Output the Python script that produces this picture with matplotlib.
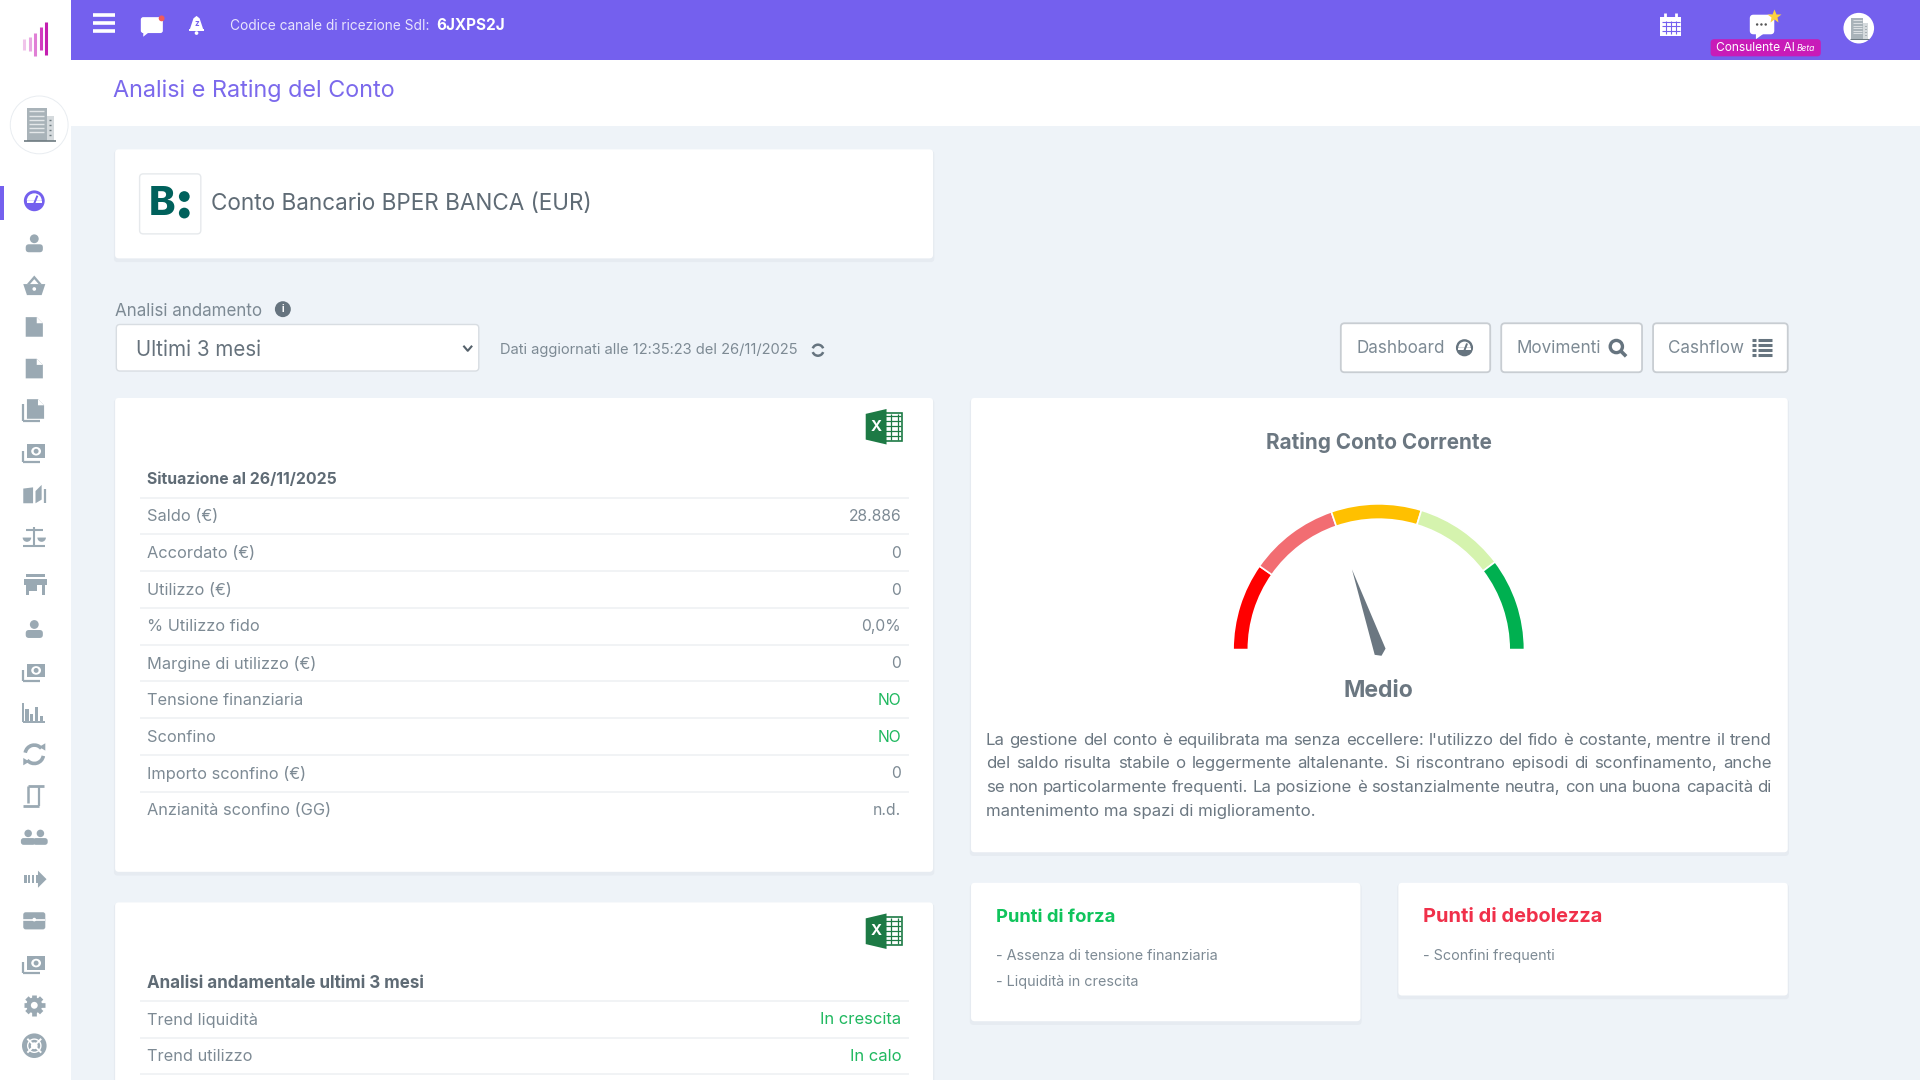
import matplotlib
matplotlib.use("Agg")
import matplotlib.pyplot as plt
import numpy as np
from matplotlib.patches import Circle, Ellipse, FancyBboxPatch, Polygon, Rectangle, Wedge, Arc

plt.rcParams['font.family'] = ['Inter', 'DejaVu Sans']

# table contents
situation_title = "Situazione al 26/11/2025"
situation_labels = ["Saldo (€)", "Accordato (€)", "Utilizzo (€)", "% Utilizzo fido", "Margine di utilizzo (€)",
                    "Tensione finanziaria", "Sconfino", "Importo sconfino (€)", "Anzianità sconfino (GG)"]
situation_values = ["28.886", "0", "0", "0,0%", "0", "NO", "NO", "0", "n.d."]
trend_title = "Analisi andamentale ultimi 3 mesi"
trend_labels = ["Trend liquidità", "Trend utilizzo"]
trend_values = ["In crescita", "In calo"]

# gauge: edges in degrees, from left to right
gauge_edges = [180, 145, 109, 73, 37, 0]
gauge_colors = ["#ff0000", "#f26d72", "#ffc000", "#d5f3ae", "#00b050"]
needle_angle = 108.5
rating_label = "Medio"

rating_lines = [
    "La gestione del conto è equilibrata ma senza eccellere: l'utilizzo del fido è costante, mentre il trend",
    "del saldo risulta stabile o leggermente altalenante. Si riscontrano episodi di sconfinamento, anche",
    "se non particolarmente frequenti. La posizione è sostanzialmente neutra, con una buona capacità di",
    "mantenimento ma spazi di miglioramento.",
]
strengths = ["- Assenza di tensione finanziaria", "- Liquidità in crescita"]
weaknesses = ["- Sconfini frequenti"]

sidebar_icons = ["gauge", "person", "basket", "file", "file", "files", "money", "book", "scale", "store", "person",
                 "money", "bars", "sync", "scroll", "people", "arrow", "chest", "money", "gear", "buoy"]
sidebar_rows = [164, 199, 233, 267, 301, 335, 370, 404, 438, 477, 514, 549, 582, 616, 650, 684, 718, 752, 788, 821, 854]
logo_tops = [32, 30, 27, 22, 18]
logo_bottoms = [41, 42, 46, 41, 45]
logo_colors = ["#f0c4ea", "#e9a8e2", "#e07fd5", "#d23cc0", "#c41fb0"]

PURPLE = "#7460ee"
BG = "#eef3f8"
GREY = "#7d8a94"
DARK = "#5f6b75"
ICON = "#9aa9b3"
GREEN = "#1fb85f"

fig = plt.figure(figsize=(19.2, 10.8), dpi=100, facecolor=BG)
ax = fig.add_axes([0, 0, 1, 1])
# the axes use the coordinates of the page
ax.set_xlim(0, 1568)
ax.set_ylim(882, 0)
ax.axis("off")


def txt(x, y, s, size, color=GREY, weight="normal", ha="left", style="normal"):
    return ax.text(x, y + 1, s, fontsize=size * 0.72, color=color, fontweight=weight, ha=ha, va="center",
                   fontstyle=style, zorder=6)


def box(x0, y0, x1, y1, color="white", edge="none", lw=0, r=3, z=2):
    p = FancyBboxPatch((x0 + r, y0 + r), x1 - x0 - 2 * r, y1 - y0 - 2 * r, boxstyle=f"round,pad={r},rounding_size={r}",
                       fc=color, ec=edge, lw=lw, zorder=z)
    ax.add_patch(p)
    return p


def card(x0, y0, x1, y1):
    box(x0 - 1, y0 + 1, x1 + 1, y1 + 3, color="#e6ebf1", z=1)
    box(x0, y0, x1, y1)


def rect(x0, y0, x1, y1, color, z=5):
    ax.add_patch(Rectangle((x0, y0), x1 - x0, y1 - y0, fc=color, ec="none", zorder=z))


def poly(points, color, z=5):
    ax.add_patch(Polygon(points, closed=True, fc=color, ec="none", zorder=z))


def circ(x, y, r, color, z=5):
    ax.add_patch(Circle((x, y), r, fc=color, ec="none", zorder=z))


def seg(x0, y0, x1, y1, color, lw=1.5, z=5):
    ax.plot([x0, x1], [y0, y1], color=color, lw=lw, solid_capstyle="butt", zorder=z)


def person(x, y, c=ICON, s=1.0):
    circ(x, y - 4 * s, 3.6 * s, c)
    box(x - 7 * s, y + 0.5 * s, x + 7 * s, y + 7 * s, color=c, r=2.6 * s, z=5)


def file_icon(x, y, c=ICON):
    poly([(x - 7, y - 8), (x + 2, y - 8), (x + 7, y - 3), (x + 7, y + 8), (x - 7, y + 8)], c)
    poly([(x + 2, y - 8), (x + 7, y - 3), (x + 2, y - 3)], "white")


def money(x, y, c=ICON):
    seg(x - 9, y - 2, x - 9, y + 7, c, 1.6)
    seg(x - 9, y + 7, x + 5, y + 7, c, 1.6)
    rect(x - 6, y - 7, x + 9, y + 4, c)
    ax.add_patch(Ellipse((x + 1.5, y - 1.5), 8, 7, fc="white", ec="none", zorder=5))
    circ(x + 1.5, y - 1.5, 2, c)


def gauge_icon(x, y, c, hole="white", r=8.5):
    circ(x, y, r, c)
    ax.add_patch(Wedge((x, y), r * 0.72, 180, 360, fc=hole, ec="none", zorder=5))
    rect(x - r * 0.72, y - 0.2, x + r * 0.72, y + 2, hole)
    seg(x, y + 2, x + r * 0.3, y - r * 0.5, c, 1.4)
    poly([(x - r * 0.6, y + r * 0.55), (x + r * 0.6, y + r * 0.55), (x, y + r * 0.85)], c)


def building(x, y, s=1.0):
    c = "#6d7a80"
    rect(x - 10 * s, y - 14 * s, x + 6 * s, y + 13 * s, "#a9b3b9")
    rect(x + 6 * s, y - 7 * s, x + 12 * s, y + 13 * s, "#d5dadd")
    for dy in np.arange(-11, 9, 3.4):
        seg(x - 8 * s, y + dy * s, x + 4 * s, y + dy * s, "#e4e7e9", 1.0 * s)
    for dy in np.arange(-4, 11, 4):
        seg(x + 8 * s, y + dy * s, x + 10 * s, y + dy * s, c, 1.0 * s)
    seg(x - 12 * s, y + 13 * s, x + 14 * s, y + 13 * s, c, 1.2 * s)


def sidebar_icon(name, x, y):
    if name == "gauge":
        gauge_icon(x, y, PURPLE)
    elif name == "person":
        person(x, y)
    elif name == "basket":
        poly([(x - 9, y - 1), (x + 9, y - 1), (x + 6, y + 8), (x - 6, y + 8)], ICON)
        poly([(x - 6, y - 1), (x, y - 8), (x + 6, y - 1), (x + 3.5, y - 1), (x, y - 5), (x - 3.5, y - 1)], ICON)
        circ(x, y + 3, 1.5, "white")
    elif name == "file":
        file_icon(x, y)
    elif name == "files":
        seg(x - 9, y - 5, x - 9, y + 9, ICON, 1.6)
        seg(x - 9, y + 9, x + 5, y + 9, ICON, 1.6)
        file_icon(x + 1, y - 1)
    elif name == "money":
        money(x, y)
    elif name == "book":
        poly([(x - 9, y - 5), (x - 1, y - 6), (x - 1, y + 7), (x - 9, y + 7)], ICON)
        poly([(x + 1, y - 3), (x + 6, y - 8), (x + 6, y + 4), (x + 1, y + 7)], ICON)
        seg(x + 8.5, y - 5, x + 8.5, y + 7, ICON, 1.6)
    elif name == "scale":
        seg(x, y - 8, x, y + 7, ICON, 1.5)
        seg(x - 9, y + 8, x + 9, y + 8, ICON, 1.5)
        seg(x - 7, y - 5, x + 7, y - 5, ICON, 1.5)
        ax.add_patch(Wedge((x - 6, y + 1), 3.5, 0, 180, fc=ICON, ec="none", zorder=5))
        ax.add_patch(Wedge((x + 6, y + 1), 3.5, 0, 180, fc=ICON, ec="none", zorder=5))
    elif name == "store":
        rect(x - 7, y - 8, x + 9, y - 6, ICON)
        rect(x - 8, y - 4, x + 10, y + 1, ICON)
        rect(x - 7, y + 1, x - 4, y + 9, ICON)
        rect(x + 6, y + 1, x + 9, y + 9, ICON)
        rect(x - 4, y + 1, x + 2, y + 6, ICON)
    elif name == "bars":
        seg(x - 9, y - 8, x - 9, y + 8, ICON, 1.4)
        seg(x - 9, y + 8, x + 9, y + 8, ICON, 1.4)
        for dx, h in zip([-6, -2, 2, 6], [10, 6, 12, 4]):
            rect(x + dx - 1.3, y + 7 - h, x + dx + 1.3, y + 7, ICON)
    elif name == "sync":
        ax.add_patch(Arc((x, y), 15, 15, theta1=190, theta2=320, ec=ICON, lw=2.6, zorder=5))
        ax.add_patch(Arc((x, y), 15, 15, theta1=10, theta2=140, ec=ICON, lw=2.6, zorder=5))
        poly([(x + 4, y - 6), (x + 9, y - 9), (x + 9, y - 3)], ICON)
        poly([(x - 4, y + 6), (x - 9, y + 9), (x - 9, y + 3)], ICON)
    elif name == "scroll":
        seg(x - 5, y - 8, x + 8, y - 8, ICON, 2)
        seg(x - 5, y - 8, x - 5, y + 6, ICON, 1.8)
        seg(x + 4, y - 7, x + 4, y + 8, ICON, 1.6)
        seg(x - 9, y + 8, x + 4, y + 8, ICON, 2)
    elif name == "people":
        person(x - 5, y, s=0.85)
        person(x + 5, y, s=0.85)
    elif name == "arrow":
        for dx in [-8, -5, -2]:
            rect(x + dx, y - 3.5, x + dx + 1.8, y + 3.5, ICON)
        rect(x + 1, y - 3.5, x + 3, y + 3.5, ICON)
        poly([(x + 3, y - 7), (x + 10, y), (x + 3, y + 7)], ICON)
    elif name == "chest":
        box(x - 9, y - 7, x + 9, y + 7, color=ICON, r=2, z=5)
        seg(x - 9, y - 1, x + 9, y - 1, "white", 1.2)
        circ(x, y - 1, 1.5, "white")
    elif name == "gear":
        for a in np.arange(0, 180, 45):
            dx, dy = 8.5 * np.cos(np.radians(a)), 8.5 * np.sin(np.radians(a))
            seg(x - dx, y - dy, x + dx, y + dy, ICON, 3.4)
        circ(x, y, 6.5, ICON)
        circ(x, y, 2.8, "white")
    elif name == "buoy":
        ax.add_patch(Circle((x, y), 8, fc="none", ec=ICON, lw=3.6, zorder=5))
        ax.add_patch(Circle((x, y), 3.8, fc="none", ec=ICON, lw=1.8, zorder=5))
        for a in [45, 135]:
            dx, dy = 8 * np.cos(np.radians(a)), 8 * np.sin(np.radians(a))
            seg(x - dx, y - dy, x + dx, y + dy, "white", 1.4, z=6)


def excel(x, y):
    rect(x + 14, y + 3, x + 30, y + 26, "white")
    for i in range(5):
        seg(x + 16, y + 6 + i * 4, x + 29, y + 6 + i * 4, "#1d7a45", 0.9)
    seg(x + 21, y + 4, x + 21, y + 25, "#1d7a45", 0.9)
    seg(x + 26, y + 4, x + 26, y + 25, "#1d7a45", 0.9)
    ax.add_patch(Rectangle((x + 14, y + 3), 16, 23, fc="none", ec="#1d7a45", lw=1.2, zorder=5))
    poly([(x, y + 4), (x + 17, y), (x + 17, y + 29), (x, y + 25)], "#1d7a45")
    txt(x + 8.5, y + 13.5, "X", 15, "white", "bold", ha="center")


def justified(x0, x1, y, line, size, color, fill=True):
    if not fill:
        txt(x0, y, line, size, color)
        return
    words = line.split(" ")
    rend = fig.canvas.get_renderer()
    inv = ax.transData.inverted()
    items = [txt(0, y, w, size, color) for w in words]
    widths = []
    for t in items:
        e = t.get_window_extent(rend)
        widths.append(inv.transform((e.x1, 0))[0] - inv.transform((e.x0, 0))[0])
    gap = (x1 - x0 - sum(widths)) / (len(words) - 1)
    pos = x0
    for t, w in zip(items, widths):
        t.set_x(pos)
        pos += w + gap


# page frame
rect(0, 0, 58, 882, "white", z=1)
rect(58, 49, 1568, 103, "white", z=1)
rect(58, 0, 1568, 49, PURPLE, z=1)

# logo
for i, (top, bottom) in enumerate(zip(logo_tops, logo_bottoms)):
    px = 19.5 + i * 4.6
    seg(px, top, px, bottom, logo_colors[i], 2.2)

# top bar
for yy in [12, 18.5, 25]:
    seg(76, yy, 94, yy, "white", 2.6)
box(115, 14, 133, 27, color="white", r=2, z=5)
poly([(117, 26), (122, 26), (117, 30)], "white")
circ(132, 15, 2.4, "#f05a5a", z=6)
poly([(155, 24), (158, 15), (160.5, 13), (163, 15), (166, 24)], "white")
rect(154, 23.5, 167, 25, "white")
circ(160.5, 27, 1.5, "white")
txt(160.5, 18.5, "z", 8, PURPLE, "bold", ha="center")
txt(188, 20, "Codice canale di ricezione SdI:", 13.7, "#e8e4fd")
txt(356, 19.5, "6JXPS2J", 15.3, "white", "bold")

# calendar, assistant, profile
rect(1356, 14, 1373, 29, "white")
seg(1360, 11, 1360, 15, "white", 2)
seg(1369, 11, 1369, 15, "white", 2)
for xx in [1360, 1364, 1368]:
    seg(xx + 0.5, 17, xx + 0.5, 28, PURPLE, 0.8)
for yy in [18, 21.5, 25]:
    seg(1357, yy, 1372, yy, PURPLE, 0.8)
box(1429, 12, 1449, 28, color="white", r=3, z=5)
poly([(1434, 27), (1441, 27), (1434, 32)], "white")
for xx in [1435, 1438.5, 1442]:
    circ(xx, 20, 1, "#555555", z=6)
ax.plot([1449], [13], marker="*", ms=10, color="#ffd23f", mec="none", zorder=6)
box(1397, 32, 1487, 46, color="#c81bb8", r=3, z=5)
txt(1401, 38, "Consulente AI", 12, "white")
txt(1467, 38.5, "Beta", 8.5, "white", style="italic")
circ(1518, 23, 12.5, "white")
building(1518, 23.5, s=0.62)

# sidebar
circ(32, 102, 24, "#e9edf1", z=2)
circ(32, 102, 23.2, "white", z=2)
building(32, 102)
rect(0, 152, 3, 180, PURPLE)
for name, yy in zip(sidebar_icons, sidebar_rows):
    sidebar_icon(name, 28, yy)

txt(92, 73, "Analisi e Rating del Conto", 23.4, "#7b69ec")

# bank card
card(94, 122, 762, 211)
box(114, 142, 164, 191, edge="#e6e9ec", lw=1, z=3)
txt(121.5, 166, "B", 40, "#00615c", "heavy")
circ(150.5, 160.5, 4.4, "#00615c")
circ(150.5, 174, 4.4, "#00615c")
txt(172, 165.5, "Conto Bancario BPER BANCA (EUR)", 22.5, "#5f6b75")

# filter row
txt(94, 253, "Analisi andamento", 17, GREY)
circ(231, 252.5, 6.5, "#66747f")
txt(231, 251.5, "i", 10, "white", "bold", ha="center")
box(95, 265, 391, 303, edge="#d8dde2", lw=1, z=3)
txt(111, 284.5, "Ultimi 3 mesi", 20.6, "#66727c")
ax.plot([379, 382, 385], [283, 286.5, 283], color="#55616b", lw=1.5, zorder=5)
txt(408, 285, "Dati aggiornati alle 12:35:23 del 26/11/2025", 14.7, GREY)
ax.add_patch(Arc((668, 286), 9, 9, theta1=20, theta2=160, ec="#66747f", lw=1.8, zorder=5))
ax.add_patch(Arc((668, 286), 9, 9, theta1=200, theta2=340, ec="#66747f", lw=1.8, zorder=5))

for x0, x1, label in [(1095, 1217, "Dashboard"), (1226, 1341, "Movimenti"), (1350, 1460, "Cashflow")]:
    box(x0, 264, x1, 304, edge="#c8cdd2", lw=1.3, r=3, z=3)
    txt(x0 + 12.5, 284, label, 17.1, GREY)
gauge_icon(1196, 284, "#66747f", r=7)
ax.add_patch(Circle((1320, 283), 5, fc="none", ec="#66747f", lw=2.4, zorder=5))
seg(1323.5, 286.5, 1328, 291, "#66747f", 2.6)
for yy in [278, 282, 286, 290]:
    seg(1431, yy, 1434, yy, "#66747f", 2.2)
    seg(1435.5, yy, 1447, yy, "#66747f", 2.2)

# situation table
card(94, 325, 762, 712)
excel(707, 334)
txt(120, 391, situation_title, 15.8, DARK, "bold")
for i, (label, value) in enumerate(zip(situation_labels, situation_values)):
    yy = 421.5 + i * 30
    seg(114, yy - 15, 742, yy - 15, "#eff1f3", 1.2)
    txt(120, yy - 0.5, label, 16.4, GREY)
    txt(736, yy - 0.5, value, 15.7, GREEN if value == "NO" else GREY, ha="right")

# trend table
card(94, 737, 762, 900)
excel(707, 746)
txt(120, 802.5, trend_title, 17, DARK, "bold")
for i, (label, value) in enumerate(zip(trend_labels, trend_values)):
    yy = 832.5 + i * 30
    seg(114, yy - 15, 742, yy - 15, "#eff1f3", 1.2)
    txt(120, yy - 0.5, label, 16.4, GREY)
    txt(736, yy - 0.5, value, 16.6, GREEN, ha="right")
seg(114, 877.5, 742, 877.5, "#eff1f3", 1.2)

# rating card
card(793, 325, 1460, 696)
txt(1126, 360, "Rating Conto Corrente", 20.7, "#6b7781", "bold", ha="center")
gauge_c = (1126, 530.5)
for k, color in enumerate(gauge_colors):
    a0, a1 = gauge_edges[k], gauge_edges[k + 1]
    # the y axis points down, so the angles change sign
    ax.add_patch(Wedge(gauge_c, 119, -a0, -a1, width=12.5, fc=color, ec="white", lw=1.2, zorder=4))
rad = np.radians(needle_angle)
ux, uy = np.cos(rad), -np.sin(rad)
nx, ny = -uy, ux
needle = [(gauge_c[0] + 69 * ux, gauge_c[1] + 69 * uy),
          (gauge_c[0] + 5.5 * nx - 1 * ux, gauge_c[1] + 5.5 * ny - 1 * uy),
          (gauge_c[0] + 0.5 * nx - 5.5 * ux, gauge_c[1] + 0.5 * ny - 5.5 * uy),
          (gauge_c[0] - 4.5 * nx - 3 * ux, gauge_c[1] - 4.5 * ny - 3 * uy)]
poly(needle, "#6b7781")
txt(1126, 563, rating_label, 23, "#6b7781", "bold", ha="center")
for i, line in enumerate(rating_lines):
    justified(805, 1447, 603.5 + i * 19.4, line, 16.8, "#6b7781", fill=i < len(rating_lines) - 1)

# strengths and weaknesses
card(793, 721, 1111, 834)
txt(813, 748, "Punti di forza", 18.4, "#10c45c", "bold")
for i, line in enumerate(strengths):
    txt(813, 780 + i * 21, line, 14.4, GREY)
card(1142, 721, 1460, 813)
txt(1162, 748, "Punti di debolezza", 20, "#f0304a", "bold")
for i, line in enumerate(weaknesses):
    txt(1162, 780 + i * 21, line, 14.4, GREY)

fig.savefig("out.png", dpi=100, facecolor=BG)
